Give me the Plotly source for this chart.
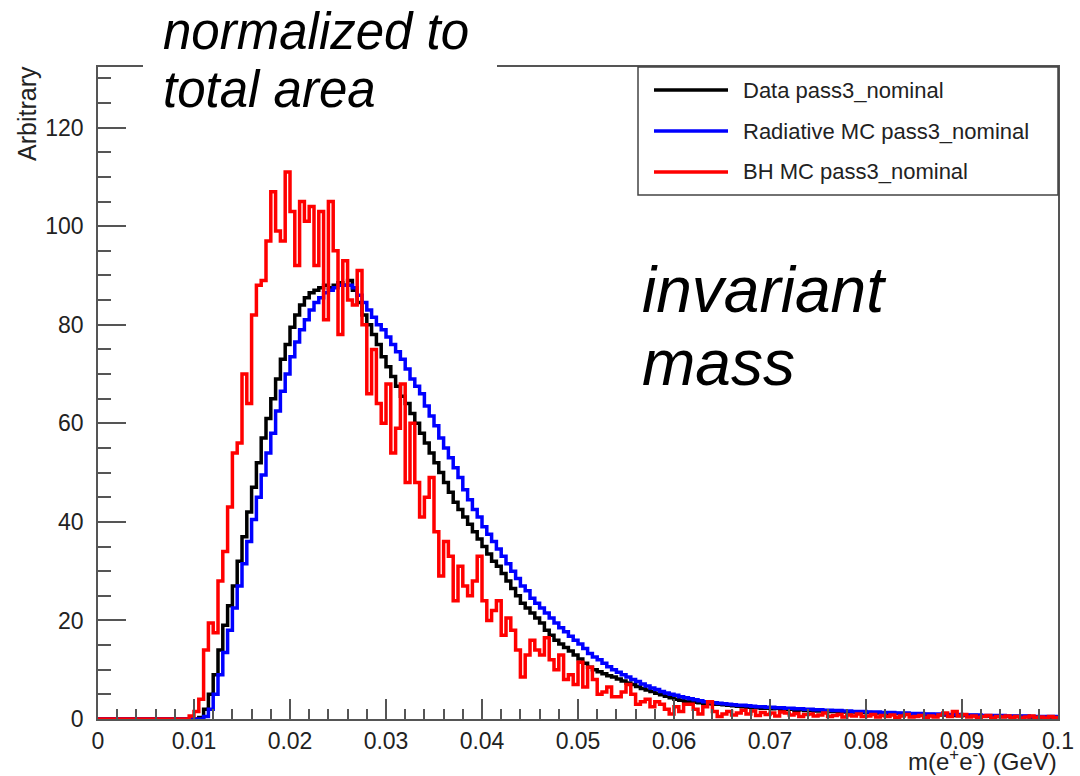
import plotly.graph_objects as go

# ---------------- data (histograms, 200 bins from 0 to 0.1 GeV) ----------------
X_MIN, X_MAX = 0.0, 0.1

DATA_PASS3 = [
    0, 0, 0, 0, 0, 0, 0, 0, 0, 0, 0, 0, 0, 0, 0, 0, 0, 0, 0, 0,
    0, 0.3, 2, 5, 9, 14, 19, 23, 27, 32, 37, 42, 47, 52, 57, 61, 65, 69, 73, 76,
    79.5, 82, 84, 85.5, 86.5, 87, 87.5, 88, 87.5, 88, 88.5, 88, 89, 87, 84.5, 82, 80, 78, 76, 73.5,
    71.5, 69.5, 67.5, 65.5, 64, 62, 60, 58, 56, 54, 52, 50, 48, 46, 44, 42.5, 41, 39.5, 38, 36.5,
    35, 33.5, 32, 31, 29.5, 28, 26.5, 25, 23.5, 22.5, 21.5, 20.5, 19.5, 18, 17, 16, 15.2, 14.5, 13.8, 13,
    12.2, 11.3, 10.5, 10, 9.6, 9.2, 8.8, 8.5, 8.1, 7.7, 7.3, 7, 6.6, 6.2, 5.9, 5.6, 5.2, 4.9, 4.6, 4.3,
    4.0, 3.8, 3.6, 3.5, 3.4, 3.3, 3.2, 3.1, 3.0, 3.0, 2.9, 2.8, 2.7, 2.6, 2.5, 2.4, 2.3, 2.3, 2.2, 2.2,
    2.1, 2.2, 1.9, 2.0, 2.0, 1.8, 1.9, 1.7, 1.8, 1.6, 1.6, 1.6, 1.5, 1.5, 1.5, 1.4, 1.4, 1.4, 1.3, 1.3,
    1.3, 1.2, 1.2, 1.2, 1.1, 1.1, 1.1, 1.0, 1.0, 1.0, 0.9, 0.9, 0.9, 0.9, 0.8, 0.8, 0.8, 0.8, 0.7, 0.7,
    0.7, 0.7, 0.7, 0.6, 0.6, 0.6, 0.6, 0.6, 0.5, 0.5, 0.5, 0.5, 0.5, 0.5, 0.4, 0.4, 0.4, 0.4, 0.4, 0.4,
]

RADIATIVE_MC = [
    0, 0, 0, 0, 0, 0, 0, 0, 0, 0, 0, 0, 0, 0, 0, 0, 0, 0, 0, 0,
    0, 0, 0.5, 2, 5, 9, 13.5, 18, 22.5, 27, 31.5, 36, 40.5, 45, 49.5, 54, 58, 62.5, 66.5, 70,
    73.5, 76.5, 79, 81, 83, 84.5, 85.5, 86.5, 87, 87.5, 88, 88, 88, 87.5, 86, 84.5, 83, 81.5, 80, 79,
    77.5, 76, 74.5, 73, 71, 69, 67.5, 66, 63.5, 61.5, 59.5, 57, 55, 53, 51, 49, 46.5, 44.5, 42.5, 41,
    39, 37.5, 36, 34.5, 33, 31.5, 30, 28.5, 27, 26, 24.5, 23.5, 22.5, 21.5, 20.5, 19.5, 18.5, 17.7, 16.8, 16,
    15.2, 14.3, 13.3, 12.6, 12, 11.3, 10.6, 10, 9.5, 9, 8.5, 8, 7.6, 7.1, 6.7, 6.3, 6.0, 5.6, 5.3, 5.0,
    4.8, 4.5, 4.3, 4.1, 3.9, 3.7, 3.5, 3.4, 3.3, 3.2, 3.1, 3.0, 2.9, 2.8, 2.8, 2.7, 2.6, 2.5, 2.5, 2.4,
    2.4, 2.3, 2.3, 2.2, 2.2, 2.1, 2.1, 2.0, 2.0, 1.9, 1.9, 1.8, 1.8, 1.7, 1.7, 1.6, 1.6, 1.5, 1.5, 1.5,
    1.4, 1.4, 1.4, 1.3, 1.3, 1.3, 1.2, 1.2, 1.2, 1.1, 1.1, 1.1, 1.0, 1.0, 1.0, 1.0, 0.9, 0.9, 0.9, 0.9,
    0.8, 0.8, 0.8, 0.8, 0.7, 0.7, 0.7, 0.7, 0.7, 0.6, 0.6, 0.6, 0.6, 0.6, 0.5, 0.5, 0.5, 0.5, 0.5, 0.5,
]

BH_MC = [
    0, 0, 0, 0, 0, 0, 0, 0, 0, 0, 0, 0, 0, 0, 0, 0, 0, 0, 0, 0.6,
    1.5, 4, 14, 19.5, 17.5, 28, 34, 43, 54, 56, 70, 64, 82, 88, 89, 97, 107, 99, 97, 111,
    103, 92, 105, 101, 104, 92, 103, 81, 105, 95, 78, 93, 85, 84, 91, 80, 66, 75, 64, 60,
    68, 54, 59, 68, 48, 60, 48, 41, 45, 49, 38, 29, 36, 33, 24, 31, 27, 25, 28, 33,
    24, 20, 22, 24, 17, 20.5, 18, 14, 8.5, 13, 16, 14, 13, 16.5, 12, 10, 13, 8, 9, 7,
    11.5, 6.5, 10.5, 8, 5, 5.5, 6.5, 4.5, 4.5, 5.5, 7, 5, 3, 3.5, 4, 2.5, 3.5, 3, 2, 1,
    2.5, 1.5, 3, 3, 2, 1, 2.5, 3.5, 1.5, 0.5, 1, 1.5, 0.8, 1.2, 1.8, 1.0, 1.6, 0.7, 1.3, 0.9,
    1.2, 0.6, 1.4, 1.2, 0.8, 1.1, 0.5, 0.9, 1.0, 0.6, 0.8, 1.2, 0.5, 0.7, 0.9, 0.4, 0.8, 0.6, 1.0, 0.5,
    0.6, 0.9, 0.4, 0.7, 0.5, 0.8, 0.3, 0.6, 0.9, 0.4, 0.5, 0.7, 0.3, 0.6, 0.4, 0.8, 1.2, 0.5, 1.5, 0.6,
    0.9, 0.4, 0.6, 0.3, 0.5, 0.7, 0.2, 0.5, 0.4, 0.6, 0.3, 0.5, 0.2, 0.4, 0.6, 0.3, 0.4, 0.2, 0.5, 0.3,
]

SERIES_NAMES = ["Data pass3_nominal", "Radiative MC pass3_nominal", "BH MC pass3_nominal"]
SERIES_COLORS = ["#000000", "#0000ff", "#ff0000"]
X_TICKS = [0, 0.01, 0.02, 0.03, 0.04, 0.05, 0.06, 0.07, 0.08, 0.09, 0.1]
X_TICK_TEXT = ["0", "0.01", "0.02", "0.03", "0.04", "0.05", "0.06", "0.07", "0.08", "0.09", "0.1"]
Y_TICKS = [0, 20, 40, 60, 80, 100, 120]
Y_MAX = 132.3

# ---------------- figure ----------------
W, H = 1080, 776
PL, PR, PT, PB = 98, 1058, 67, 719  # plot frame in pixels


def px(x):
    return (x - PL) / (PR - PL)


def py(y):
    return (PB - y) / (PB - PT)


n = len(DATA_PASS3)
bw = (X_MAX - X_MIN) / n
edges = [X_MIN + i * bw for i in range(n + 1)]

fig = go.Figure()
for name, vals, col in zip(SERIES_NAMES, [DATA_PASS3, RADIATIVE_MC, BH_MC], SERIES_COLORS):
    fig.add_trace(go.Scatter(
        x=edges, y=list(vals) + [vals[-1]], mode="lines", name=name,
        line=dict(color=col, width=3.5, shape="hv"), showlegend=False,
    ))

FONT = "Liberation Sans, Arial, sans-serif"
AX = "#555555"

fig.update_layout(
    width=W, height=H,
    margin=dict(l=PL, r=W - PR, t=PT, b=H - PB),
    paper_bgcolor="white", plot_bgcolor="white",
    font=dict(family=FONT, color="#222222"),
    xaxis=dict(
        range=[X_MIN, X_MAX], tickmode="array", tickvals=X_TICKS, ticktext=X_TICK_TEXT,
        ticks="inside", ticklen=20, tickwidth=1.5, tickcolor=AX,
        minor=dict(tickmode="linear", tick0=0, dtick=0.002, ticks="inside", ticklen=10,
                   tickwidth=1.5, tickcolor=AX),
        showline=True, linecolor=AX, linewidth=1.5, mirror=True,
        showgrid=False, zeroline=False, tickfont=dict(size=23, color="#222"),
        ticklabelstandoff=1, automargin=False,
    ),
    yaxis=dict(
        range=[0, Y_MAX], tickmode="array", tickvals=Y_TICKS,
        ticks="inside", ticklen=28, tickwidth=1.5, tickcolor=AX,
        minor=dict(tickmode="linear", tick0=0, dtick=5, ticks="inside", ticklen=13,
                   tickwidth=1.5, tickcolor=AX),
        showline=True, linecolor=AX, linewidth=1.5, mirror=True,
        showgrid=False, zeroline=False, tickfont=dict(size=23, color="#222"),
        ticklabelstandoff=8, automargin=False,
    ),
)

shapes = []
# white box behind the "normalized to total area" note
shapes.append(dict(type="rect", xref="paper", yref="paper", x0=px(143), x1=px(497),
                   y0=py(118), y1=py(0), fillcolor="white", line=dict(width=0), layer="above"))
# legend box
LEG_X0, LEG_X1, LEG_Y0, LEG_Y1 = 638, 1058, 67, 195
shapes.append(dict(type="rect", xref="paper", yref="paper", x0=px(LEG_X0), x1=px(LEG_X1),
                   y0=py(LEG_Y1), y1=py(LEG_Y0), fillcolor="white",
                   line=dict(color="#444", width=1.5), layer="above"))
annotations = []
for i, (name, col) in enumerate(zip(SERIES_NAMES, SERIES_COLORS)):
    yy = 90 + 41 * i
    shapes.append(dict(type="line", xref="paper", yref="paper", x0=px(654), x1=px(728),
                       y0=py(yy), y1=py(yy), line=dict(color=col, width=3.5), layer="above"))
    annotations.append(dict(text=name, xref="paper", yref="paper", x=px(741), y=py(yy),
                            xanchor="left", yanchor="middle", showarrow=False,
                            font=dict(size=22, color="#222", family=FONT)))

# axis titles
annotations.append(dict(text="m(e<sup>+</sup>e<sup>-</sup>) (GeV)", xref="paper", yref="paper",
                        x=px(1059), y=py(760), xanchor="right", yanchor="middle", showarrow=False,
                        font=dict(size=24, color="#222", family=FONT)))
annotations.append(dict(text="Arbitrary", xref="paper", yref="paper", x=px(27), y=py(114),
                        xanchor="center", yanchor="middle", textangle=-90, showarrow=False,
                        font=dict(size=25, color="#222", family=FONT)))
# overlay notes
for txt, x0, yc, size in [("normalized to", 161, 32, 51), ("total area", 161, 89, 51),
                          ("invariant", 640, 290, 64), ("mass", 640, 363, 64)]:
    annotations.append(dict(text=f"<i>{txt}</i>", xref="paper", yref="paper", x=px(x0), y=py(yc),
                            xanchor="left", yanchor="middle", showarrow=False,
                            font=dict(size=size, color="black", family=FONT)))

fig.update_layout(shapes=shapes, annotations=annotations)
fig.write_html("out.html", config={"displayModeBar": False},
               post_script="document.body.style.margin='0px';")
